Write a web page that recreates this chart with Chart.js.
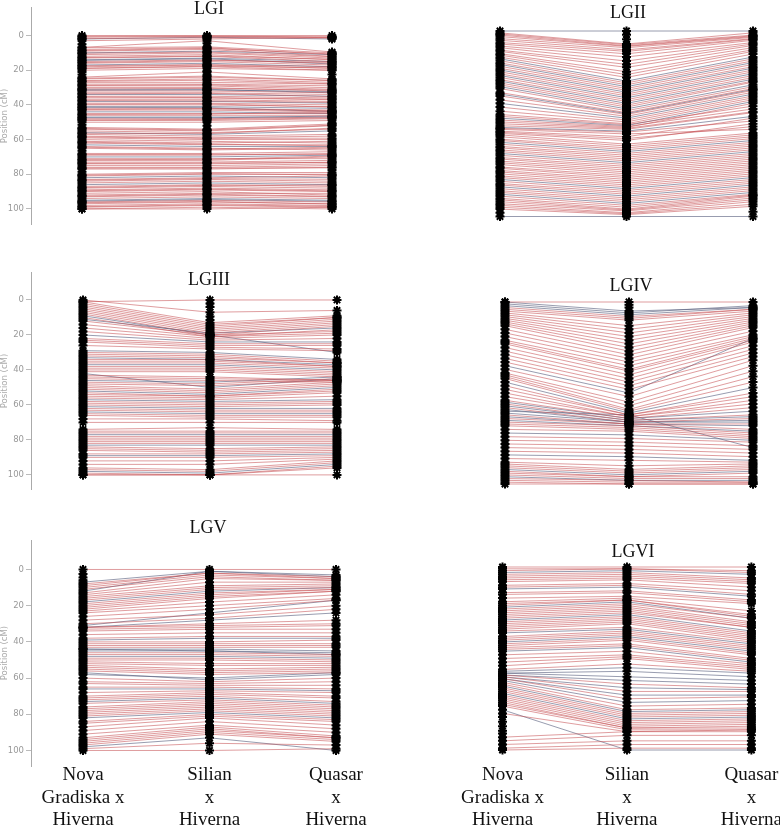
<!DOCTYPE html>
<html>
<head>
<meta charset="utf-8">
<script src="https://cdn.jsdelivr.net/npm/chart.js@4.4.1/dist/chart.umd.min.js"></script>
<style>
    body { margin: 0; background: #fff; width: 780px; height: 825px; position: relative; overflow: hidden; }
    canvas { position: absolute; }
    .ttl { position: absolute; font-family: "Liberation Serif", "Times New Roman", serif; font-size: 18px; line-height: 18px; color: #111; transform: translateX(-50%); white-space: nowrap; }
</style>
</head>
<body>
<script>
// map names (x categories) and y ticks
const mapNames = [["Nova", "Gradiska x", "Hiverna"], ["Silian", "x", "Hiverna"], ["Quasar", "x", "Hiverna"]];
const yTicks = [0, 20, 40, 60, 80, 100];

// each marker: [Nova Gradiska x Hiverna, Silian x Hiverna, Quasar x Hiverna] in cM
// *Red / *Grey = markers common to the three maps, *Solo = markers placed on one map only
const lg1Red = [[0,0,0],[0.5,0.3,0.8],[1,0.5,1],[1.8,1.2,1.5],[3,2,1],[6.8,3,9.5],[7,6.5,10],[8,7,11],[8.6,7.4,10.6],[9,8,12],[10.2,9.5,12.2],[11,10,13],
    [12,11,14],[12.7,11.8,13.6],[13,12,15],[15,14,16],[15.6,14.4,15.4],[16,15,17],[17.4,16.8,17.9],[18,17,19],[18.8,17.7,18.6],[19,18,20],[20,19,20],
    [24,21,25],[24.6,23.4,25.8],[25,24,26],[26,25,27],[26.4,25.8,27.8],[27,27,28],[28,28,29],[28.7,28.4,30.1],[29,29,31],[30,30,32],[30.8,30.5,31.4],
    [32,32,33],[33,33,34],[33.6,33.3,35.2],[35,35,36],[35.4,35.8,36.7],[36,36,37],[37,37,38],[37.5,37.7,38.6],[39,39,40],[39.6,39.4,41.3],[40,40,41],
    [42,42,43],[42.7,42.3,43.4],[43,43,44],[45,45,45],[45.5,45.3,44.2],[46,46,46],[48,48,47],[48.6,48.4,47.6],[49,49,48],[50,50,49],
    [53,54,51],[53.6,54.5,51.7],[54,55,52],[55,56,54],[56.3,56.6,53.4],[57,58,57],[58,59,58],[58.5,59.3,59.2],[59,60,60],[60,61,62],[61,62,61],
    [61.5,62.6,63.6],[62,63,63],[64,65,66],[64.4,65.5,64.4],[65,66,65],[68,68,67],[68.6,68.5,68.6],[69,69,68],[71,71,71],[71.6,71.4,69.5],[72,72,70],
    [73,73,72],[73.7,73.5,73.2],[74,74,73],[75,75,74],[76,76,75],[76.5,76.4,76.3],[77,77,76],[80,79,79],[80.5,79.6,80.4],[81,80,80],[83,82,81],
    [83.4,82.5,82.9],[84,83,84],[85,84,85],[87,86,87],[87.6,86.4,86.2],[88,87,88],[89,88,89],[89.5,88.6,89.6],[90,89,90],[91,90,92],[92,91,91],
    [92.6,91.5,92.7],[93,92,93],[94,93,94],[96,95,96],[96.4,95.7,97.2],[97,96,97],[98,97,98],[98.7,97.6,98.5],[99,98,99],[100,99,100],[100,100,99]];
const lg1Grey = [[2,1,2],[10,9,11],[14,13,15],[14.3,13.4,16.4],[17,16,18],[31,31,33],[31.6,31.4,32.3],[34,34,35],[38,38,39],[41,41,42],[41.4,41.6,43.8],
    [44,44,45],[47,47,47],[47.4,47.5,46.4],[56,57,55],[63,64,64],[70,70,69],[82,81,82],[86,85,86],[95,94,95],[95.5,94.6,95.6]];
const lg1Solo = [[5,null,null],[21,null,null],[22.5,null,null],[51.5,null,null],[66.5,null,null],[78.5,null,null],[null,4.5,null],[null,20.5,null],
    [null,22.5,null],[null,52,null],[null,67,null],[null,78,null],[null,null,22.5],[null,null,50.5],[null,null,77.5]];

const lg2Red = [[1,7,1],[1.6,7.4,2.2],[2.2,8,2.6],[3,8.3,3],[4.1,9,3.4],[5,10.2,4.1],[6.2,11,4.4],[7,12.3,5],[8.1,14,6.2],[9,16.2,7],[10.3,18,7.8],
    [11,19.6,9],[12.2,22,10.1],[13,23.5,11],[14.1,25,12.4],[16,28,15],[17.2,29,16.1],[19,31,18],[20.1,32,19.2],[22,34,21],[23.1,35,22],[25,37,24],
    [26.2,38,25.1],[28,40,27],[29,41,27.6],[31,43,30],[33.2,44,31],[35,45,32],[37.1,46,33],[41,48,35],[43.2,49,36],[45,50,37],[46,50.5,40.5],
    [48,51.5,42],[49,52,39],[50,52.5,43.5],[51.1,53,44],[52.5,54.5,48.5],[53,55.5,53],[54,57,47],[54.6,58,51.5],[55.2,59,50],[56,61,55],[57,62,56],
    [58.3,63,57],[59,64,58],[61,66,60],[62.2,67,61],[63,68,62],[64.1,69,63],[65,70,64],[67,72,66],[68.2,73,67],[69,74,68],[70.1,75,69],[71,76,70],
    [72,77,71],[73.3,78,72],[74,79,73],[75.2,80,74],[76,81,75],[77,82,76],[78.1,83,77],[79,84,78],[81,86,80],[82.2,87,81],[83,88,82],[85,90,84],
    [86.1,91,85],[87,92,86],[89,94,88],[90.2,95,88.5],[91,96,89],[92,96.5,90],[93.1,97,91],[94,98,92],[95,98.5,93.4],[96,99,94.5]];
const lg2Grey = [[0,0,0],[15,27,14],[18,30,17],[21,33,20],[24,36,23],[27,39,26],[30,42,29],[34,44.5,31.5],[39,47,34],[47,51,38],[52,54,46],[60,65,59],
    [66,71,65],[80,85,79],[84,89,83],[88,93,87],[100,100,100]];
const lg2Solo = [[98,null,null],[null,2,null],[null,4.5,null],[null,null,97.5]];

const lg3Red = [[1,0,0],[0,7,6],[1,13,9],[2,14,10],[3,15,10],[4,16,11],[5,17,12],[6,18,13],[7,19,14],[8,20,15],[10,21,17],[12,20,18],[14,21,19],
    [16,22,20],[18,23,22],[22,25,25],[23,26,26],[24,27,28],[26,28,29],[30,31,35],[31,32,36],[32,33,36],[34,34,38],[35,35,38],[36,36,39],[38,38,41],
    [39,39,42],[40,40,43],[41,41,44],[43,44,46],[44,45,46],[45,46,47],[47,48,45],[48,49,46],[49,51,47],[50,52,48],[51,53,49],[53,55,51],[54,55,52],
    [55,56,53],[56,57,55],[58,59,58],[59,60,59],[60,61,60],[62,63,63],[63,64,64],[65,66,66],[66,67,67],[68,68,69],[70,70,70],[74,73,74],[75,75,75],
    [76,76,76],[78,78,78],[79,79,79],[80,80,80],[81,81,81],[82,82,82],[84,85,84],[85,86,85],[86,87,86],[88,88,87],[90,90,89],[92,92,90],[94,94,91],
    [96,97,92],[97,98,93],[99,100,95],[100,100,96],[100,100,100]];
const lg3Grey = [[9,20,30],[11,19,16],[20,24,24],[29,30,34],[33,34,37],[37,37,40],[42,50,45],[46,47,44],[52,54,50],[57,58,57],[61,62,62],[64,65,65],
    [77,77,77],[83,83,83],[89,89,88],[98,99,94]];
const lg3Solo = [[null,2,null],[null,4,null],[null,9.5,null],[null,11.5,null]];

const lg4Red = [[0,0,0],[3,8,4],[4,9,4],[5,10,5],[6,13,6],[7,15,7],[8,17,8],[9,19,9],[10,21,10],[11,23,11],[12,25,12],[13,27,13],[15,29,14],[17,31,16],
    [19,33,18],[21,35,19],[22,37,20],[23,38,21],[25,40,22],[27,42,24],[29,44,26],[31,46,28],[33,48,30],[37,52,32],[39,55,35],[40,57,38],[41,59,41],
    [42,60,44],[46,62,50],[48,62,52],[50,63,54],[52,63,56],[54,64,58],[56,65,62],[58,66,64],[62,67,67],[64,67,70],[66,68,72],[67,69,73],[68,70,74],
    [70,71,75],[74,75,77],[76,77,79],[78,79,81],[80,81,83],[82,83,85],[86,87,88],[88,90,89],[89,92,90],[90,93,91],[91,94,92],[93,96,94],[94,96,96],
    [95,97,97],[97,98,99],[98,99,99],[99,100,100],[100,100,100]];
const lg4Grey = [[0,5,3],[1,6,2],[2,7,3],[35,50,20],[44,61,47],[55,64,60],[57,65,63],[59,66,65],[60,62,80],[61,66,66],[63,67,68],[65,68,71],[72,73,76],
    [84,85,87],[92,95,93],[96,98,98]];
const lg4Solo = [[null,1.5,null],[null,3,null]];

const lg5Red = [[0,0,0],[8,2,4],[9,2,5],[10,3,5],[11,4,6],[13,5,6],[14,7,7],[15,9,8],[16,10,9],[17,11,10],[19,13,11],[20,14,11],[21,15,12],[22,16,12],
    [23,18,14],[24,20,16],[26,22,17],[28,25,20],[30,27,22],[32,30,28],[32,31,30],[33,32,31],[34,33,33],[36,35,35],[38,37,37],[40,40,39],[41,41,41],
    [42,42,42],[43,43,43],[46,46,47],[47,47,48],[49,49,50],[50,50,51],[51,52,52],[52,53,53],[53,55,54],[54,56,55],[55,57,56],[56,58,57],[60,62,60],
    [62,63,62],[63,64,64],[65,65,66],[68,67,68],[70,68,70],[71,69,71],[72,70,73],[74,72,75],[76,73,76],[77,74,77],[78,75,78],[79,76,79],[80,77,80],
    [81,78,81],[84,80,83],[85,81,84],[87,82,86],[89,84,88],[91,86,90],[93,87,92],[94,88,93],[95,89,93],[96,90,94],[97,91,95],[99,96,97],[100,100,99]];
const lg5Grey = [[7,1,3],[12,1,4],[18,12,10],[31,24,17],[32,28,24],[39,38,38],[44,44,45],[44,45,46],[45,45,47],[48,48,49],[57,61,58],[58,60,57],
    [66,66,67],[73,71,74],[82,79,82],[98,93,100]];
const lg5Solo = [[2.5,null,null],[4.5,null,null],[6,null,null]];

const lg6Red = [[0,0,0],[1,1,2],[2,1,3],[4,3,6],[5,4,7],[6,5,8],[7,6,9],[8,7,11],[10,9,13],[11,10,15],[14,13,18],[15,14,19],[17,16,20],[19,17,24],
    [20,18,26],[21,18,27],[23,20,28],[24,21,30],[25,22,31],[26,23,32],[27,24,33],[28,25,33],[30,27,36],[31,28,37],[32,29,38],[33,30,39],[34,31,40],
    [35,33,41],[38,35,43],[39,36,44],[40,37,45],[42,39,47],[43,40,48],[44,42,50],[45,43,51],[48,46,53],[50,48,54],[52,49,55],[54,50,56],[56,53,57],
    [59,64,66],[60,68,68],[61,72,71],[63,76,75],[64,78,77],[66,80,79],[67,81,80],[68,82,81],[70,84,83],[71,85,84],[72,86,85],[73,87,86],[74,88,87],
    [75,88,88],[76,89,89],[80,90,90],[93,90,89],[95,92,92],[97,95,95],[99,97,97],[100,99,99]];
const lg6Grey = [[3,2,4],[12,11,16],[22,19,28],[29,26,35],[36,34,42],[41,38,46],[46,44,52],[57,55,58],[58,57,60],[58,60,62],[59,62,64],[60,66,67],
    [61,70,70],[62,74,73],[65,79,78],[69,83,82],[78,100,100]];
const lg6Solo = [[82,null,null],[84.5,null,null],[87,null,null],[89.5,null,null],[91,null,null]];

const panelTitles = ["LGI", "LGII", "LGIII", "LGIV", "LGV", "LGVI"];

// layout of the six panels (pixel geometry only)
const panels = [
    { red: lg1Red, grey: lg1Grey, solo: lg1Solo, left: 0,   top: 0,   w: 390, h: 232, axis: true,  labels: false, y0: 30.3,  y100: 215,   col0: 82,  step: 125,   tx: 209, ty: 8 },
    { red: lg2Red, grey: lg2Grey, solo: lg2Solo, left: 390, top: 0,   w: 390, h: 232, axis: false, labels: false, y0: 31,    y100: 216.5, col0: 500, step: 126.5, tx: 628, ty: 12.5 },
    { red: lg3Red, grey: lg3Grey, solo: lg3Solo, left: 0,   top: 265, w: 390, h: 232, axis: true,  labels: false, y0: 294.7, y100: 481,   col0: 83,  step: 127,   tx: 209, ty: 279 },
    { red: lg4Red, grey: lg4Grey, solo: lg4Solo, left: 390, top: 265, w: 390, h: 232, axis: false, labels: false, y0: 302,   y100: 484,   col0: 505, step: 124,   tx: 631, ty: 285 },
    { red: lg5Red, grey: lg5Grey, solo: lg5Solo, left: 0,   top: 533, w: 390, h: 292, axis: true,  labels: true,  y0: 563.3, y100: 750,   col0: 83,  step: 126.5, tx: 208, ty: 527 },
    { red: lg6Red, grey: lg6Grey, solo: lg6Solo, left: 390, top: 533, w: 390, h: 292, axis: false, labels: true,  y0: 567,   y100: 750,   col0: 503, step: 125,   tx: 633, ty: 551 }
];

const redLine = "rgba(196,76,80,0.55)";
const greyLine = "rgba(84,90,122,0.6)";

function link(t, color) {
    return {
        type: "line",
        data: [{ x: 0, y: t[0] }, { x: 1, y: t[1] }, { x: 2, y: t[2] }],
        borderColor: color,
        borderWidth: 1,
        pointRadius: 0,
        tension: 0,
        fill: false,
        order: 2
    };
}

panels.forEach((p, i) => {
    const cv = document.createElement("canvas");
    cv.width = p.w;
    cv.height = p.h;
    cv.style.left = p.left + "px";
    cv.style.top = p.top + "px";
    document.body.appendChild(cv);

    const t = document.createElement("div");
    t.className = "ttl";
    t.textContent = panelTitles[i];
    t.style.left = p.tx + "px";
    t.style.top = (p.ty - 9.1) + "px";
    document.body.appendChild(t);

    const axisW = p.axis ? 31 : 0;
    const labH = p.labels ? 59 : 0;
    const areaW = p.w - axisW;
    const areaH = p.h - labH;
    const perY = (p.y100 - p.y0) / 100;
    const yMin = -(p.y0 - p.top) / perY;
    const yMax = yMin + areaH / perY;
    const xMin = -(p.col0 - (p.left + axisW)) / p.step;
    const xMax = xMin + areaW / p.step;

    const all = p.red.concat(p.grey, p.solo);
    const datasets = [];
    [0, 1, 2].forEach(c => {
        datasets.push({
            type: "scatter",
            data: all.filter(m => m[c] !== null).map(m => ({ x: c, y: m[c] })),
            pointStyle: "star",
            pointRadius: 4.5,
            pointBorderWidth: 2,
            borderColor: "#000",
            backgroundColor: "#000",
            order: 1
        });
    });
    p.red.forEach(m => datasets.push(link(m, redLine)));
    p.grey.forEach(m => datasets.push(link(m, greyLine)));

    new Chart(cv, {
        type: "line",
        data: { datasets: datasets },
        options: {
            animation: false,
            responsive: false,
            events: [],
            layout: { padding: 0, autoPadding: false },
            plugins: { legend: { display: false }, tooltip: { enabled: false } },
            scales: {
                x: {
                    type: "linear",
                    min: xMin,
                    max: xMax,
                    display: p.labels,
                    afterBuildTicks: s => { s.ticks = [0, 1, 2].map(v => ({ value: v })); },
                    afterFit: s => { s.height = labH; },
                    grid: { display: false, drawTicks: false },
                    border: { display: false },
                    ticks: {
                        autoSkip: false,
                        maxRotation: 0,
                        padding: -2,
                        color: "#111",
                        font: { family: '"Liberation Serif", "Times New Roman", serif', size: 19, lineHeight: 1.18 },
                        callback: v => mapNames[v]
                    }
                },
                y: {
                    type: "linear",
                    reverse: true,
                    min: yMin,
                    max: yMax,
                    display: p.axis,
                    afterBuildTicks: s => { s.ticks = yTicks.map(v => ({ value: v })); },
                    afterFit: s => { s.width = axisW; },
                    grid: { display: true, drawOnChartArea: false, drawTicks: true, tickLength: 5, color: "#bbb" },
                    border: { display: true, color: "#aaa", width: 1 },
                    ticks: { padding: 2, color: "#999", font: { family: '"DejaVu Sans", sans-serif', size: 8.5 } },
                    title: { display: true, text: "Position (cM)", color: "#aaa", padding: 0, font: { family: '"DejaVu Sans", sans-serif', size: 8.5 } }
                }
            }
        }
    });
});
</script>
</body>
</html>
